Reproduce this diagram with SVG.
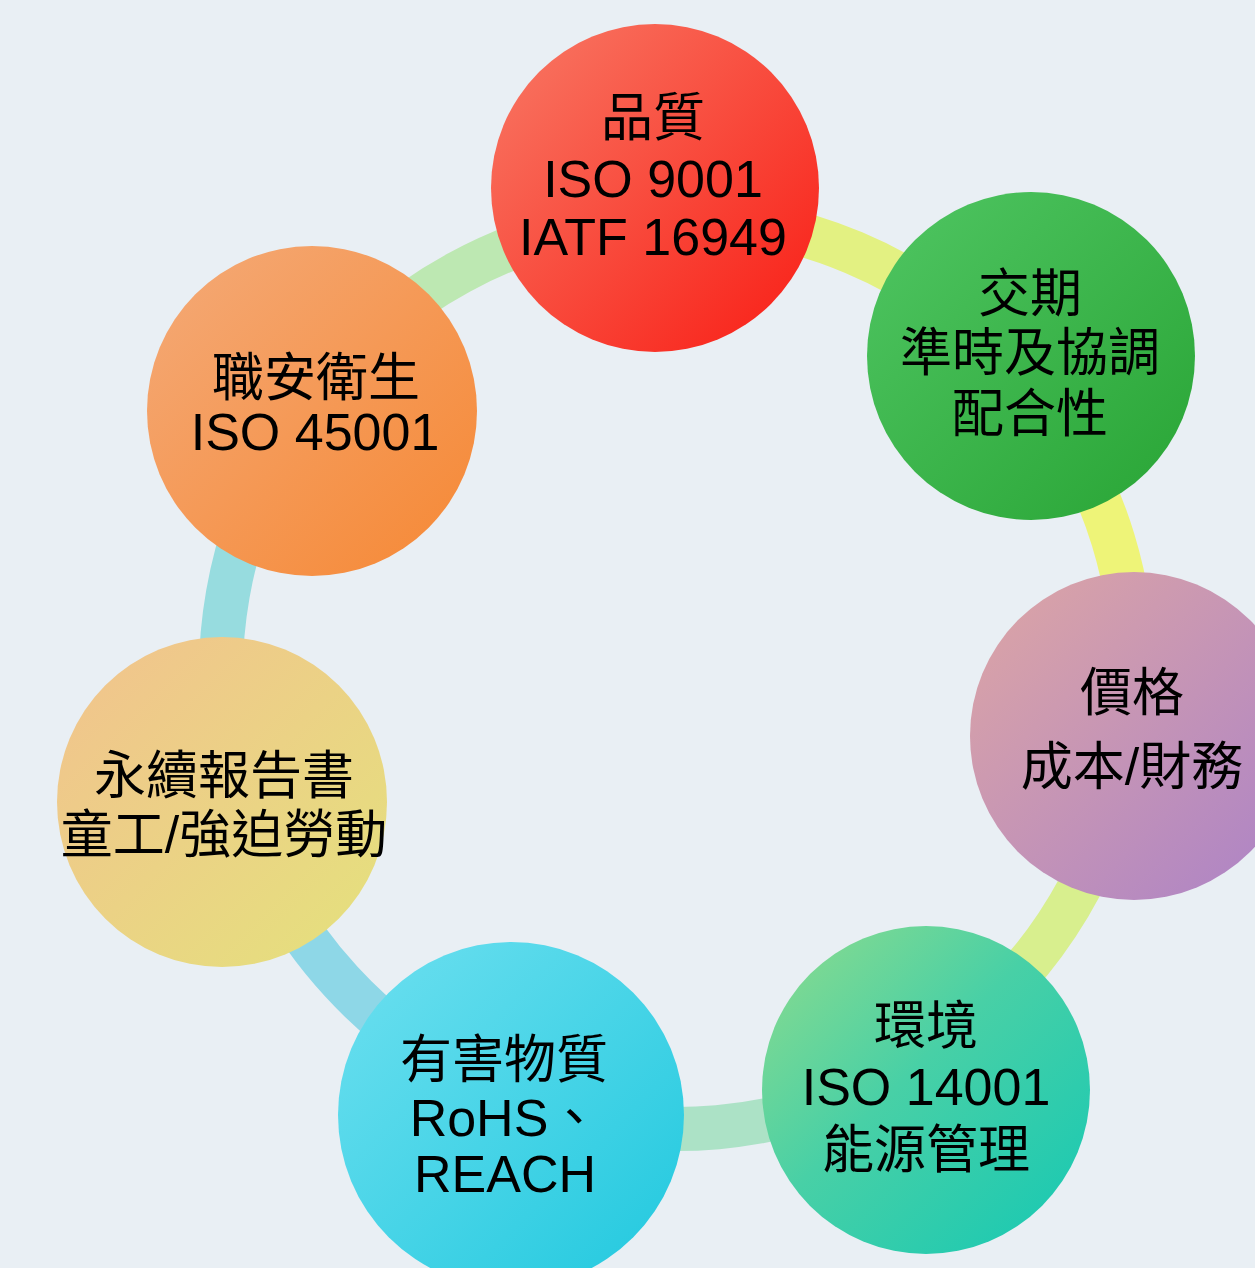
<svg xmlns="http://www.w3.org/2000/svg" width="1255" height="1268" viewBox="0 0 1255 1268">
  <style>
    .seg { fill: none; stroke-width: 44; }
    .lbl { font-family: "Liberation Sans", "Noto Sans CJK TC", "Noto Sans CJK SC", sans-serif; font-size: 52px; fill: #000; text-anchor: middle; }
  </style>
  <defs>
    <linearGradient id="gRed" x1="0" y1="0" x2="1" y2="1"><stop offset="0" stop-color="#f87a66"/><stop offset="1" stop-color="#f91c14"/></linearGradient>
    <linearGradient id="gGreen" x1="0" y1="0" x2="1" y2="1"><stop offset="0" stop-color="#50c663"/><stop offset="1" stop-color="#28a434"/></linearGradient>
    <linearGradient id="gPink" x1="0" y1="0" x2="1" y2="1"><stop offset="0" stop-color="#dea6a4"/><stop offset="1" stop-color="#ab82c8"/></linearGradient>
    <linearGradient id="gTeal" x1="0" y1="0" x2="1" y2="1"><stop offset="0" stop-color="#90dc8c"/><stop offset="0.45" stop-color="#48d0a6"/><stop offset="1" stop-color="#14c8b4"/></linearGradient>
    <linearGradient id="gCyan" x1="0" y1="0" x2="1" y2="1"><stop offset="0" stop-color="#6ee0f0"/><stop offset="1" stop-color="#20c8de"/></linearGradient>
    <linearGradient id="gTan" x1="0" y1="0" x2="1" y2="1"><stop offset="0" stop-color="#f2c28e"/><stop offset="1" stop-color="#e4e27c"/></linearGradient>
    <linearGradient id="gOrange" x1="0" y1="0" x2="1" y2="1"><stop offset="0" stop-color="#f4aa78"/><stop offset="1" stop-color="#f68834"/></linearGradient>
  </defs>
  <rect x="0" y="0" width="1255" height="1268" fill="#e9eff4"/>

  <g id="connectors">
    <path class="seg" stroke="#e3f182" d="M656.3 217.5 A456 456 0 0 1 1017 369.1"/>
    <path class="seg" stroke="#eef478" d="M1017 369.1 A456 456 0 0 1 1128.7 735.3"/>
    <path class="seg" stroke="#d8ef8e" d="M1128.7 735.3 A456 456 0 0 1 910.5 1064.7"/>
    <path class="seg" stroke="#ace2c6" d="M910.5 1064.7 A456 456 0 0 1 516.6 1099.9"/>
    <path class="seg" stroke="#8ed7e7" d="M516.6 1099.9 A456 456 0 0 1 238.2 797.2"/>
    <path class="seg" stroke="#97dcdf" d="M238.2 797.2 A456 456 0 0 1 306.7 406.9"/>
    <path class="seg" stroke="#bde8b2" d="M306.7 406.9 A456 456 0 0 1 656.3 217.5"/>
  </g>

  <g id="quality">
    <circle cx="655" cy="188" r="164" fill="url(#gRed)"/>
    <text class="lbl" x="653" y="136">品質</text>
    <text class="lbl" x="653" y="197">ISO 9001</text>
    <text class="lbl" x="653" y="255">IATF 16949</text>
  </g>

  <g id="delivery">
    <circle cx="1031" cy="356" r="164" fill="url(#gGreen)"/>
    <text class="lbl" x="1030" y="312">交期</text>
    <text class="lbl" x="1030" y="371">準時及協調</text>
    <text class="lbl" x="1030" y="432">配合性</text>
  </g>

  <g id="price">
    <circle cx="1134" cy="736" r="164" fill="url(#gPink)"/>
    <text class="lbl" x="1132" y="711">價格</text>
    <text class="lbl" x="1132" y="785">成本/財務</text>
  </g>

  <g id="environment">
    <circle cx="926" cy="1090" r="164" fill="url(#gTeal)"/>
    <text class="lbl" x="926" y="1044">環境</text>
    <text class="lbl" x="926" y="1105">ISO 14001</text>
    <text class="lbl" x="926" y="1168">能源管理</text>
  </g>

  <g id="hazardous">
    <circle cx="511" cy="1115" r="173" fill="url(#gCyan)"/>
    <text class="lbl" x="504" y="1078">有害物質</text>
    <text class="lbl" x="505" y="1136">RoHS、</text>
    <text class="lbl" x="505" y="1192">REACH</text>
  </g>

  <g id="sustainability">
    <circle cx="222" cy="802" r="165" fill="url(#gTan)"/>
    <text class="lbl" x="224" y="794">永續報告書</text>
    <text class="lbl" x="224" y="853">童工/強迫勞動</text>
  </g>

  <g id="safety">
    <circle cx="312" cy="411" r="165" fill="url(#gOrange)"/>
    <text class="lbl" x="316" y="396">職安衛生</text>
    <text class="lbl" x="315" y="450">ISO 45001</text>
  </g>
</svg>
